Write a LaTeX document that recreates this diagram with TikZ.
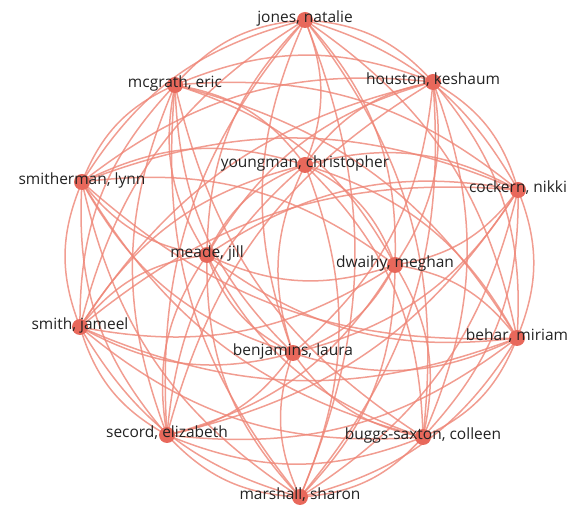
\documentclass[tikz,border=0pt]{standalone}
\usepackage{fontspec}
\setmainfont{Open Sans}
\usetikzlibrary{calc,backgrounds}
\definecolor{nodered}{HTML}{E8685B}
\definecolor{edgered}{HTML}{EE8576}
\definecolor{labelgray}{HTML}{222222}
\tikzset{
    person/.style={circle, fill=nodered, minimum size=16pt, inner sep=0pt},
    who/.style={text=labelgray, font=\fontsize{15.5}{18}\selectfont, yshift=2pt},
    link/.style={draw=edgered, line width=1.5pt, opacity=0.8},
}
\def\people{jones,mcgrath,houston,smitherman,youngman,cockern,meade,dwaihy,smith,behar,benjamins,secord,buggs,marshall}

\begin{document}
\begin{tikzpicture}[x=1pt, y=1pt]
    \useasboundingbox (0,0) rectangle (576,509);
    \coordinate (ctr) at (300,250);

    \node[person, label={[who]center:{jones, natalie}}] (jones) at (305,489) {};
    \node[person, label={[who]center:{mcgrath, eric}}] (mcgrath) at (175,424) {};
    \node[person, label={[who]center:{houston, keshaum}}] (houston) at (433,427) {};
    \node[person, label={[who]center:{smitherman, lynn}}] (smitherman) at (82,327) {};
    \node[person, label={[who]center:{youngman, christopher}}] (youngman) at (305,344) {};
    \node[person, label={[who]center:{cockern, nikki}}] (cockern) at (518,319) {};
    \node[person, label={[who]center:{meade, jill}}] (meade) at (207,254) {};
    \node[person, label={[who]center:{dwaihy, meghan}}] (dwaihy) at (395,244) {};
    \node[person, label={[who]center:{smith, jameel}}] (smith) at (80,182) {};
    \node[person, label={[who]center:{behar, miriam}}] (behar) at (517,171) {};
    \node[person, label={[who]center:{benjamins, laura}}] (benjamins) at (293,156) {};
    \node[person, label={[who]center:{secord, elizabeth}}] (secord) at (167,74) {};
    \node[person, label={[who]center:{buggs-saxton, colleen}}] (buggs) at (423,72) {};
    \node[person, label={[who]center:{marshall, sharon}}] (marshall) at (300,12) {};

    % every pair, bent away from the middle
    \begin{scope}[on background layer]
        \foreach \a [count=\i] in \people {
            \foreach \b [count=\j] in \people {
                \ifnum\j>\i
                    \draw[link] let \p1=(\a), \p2=(\b), \p3=(ctr),
                        \n1={atan2(\y2-\y1,\x2-\x1)},
                        \n2={-22*sign(((\x2-\x1)/100)*((\y3-\y1)/100)-((\y2-\y1)/100)*((\x3-\x1)/100))}
                        in (\p1) to[out={\n1+(\n2)}, in={\n1+180-(\n2)}] (\p2);
                \fi
            }
        }
    \end{scope}
\end{tikzpicture}
\end{document}
